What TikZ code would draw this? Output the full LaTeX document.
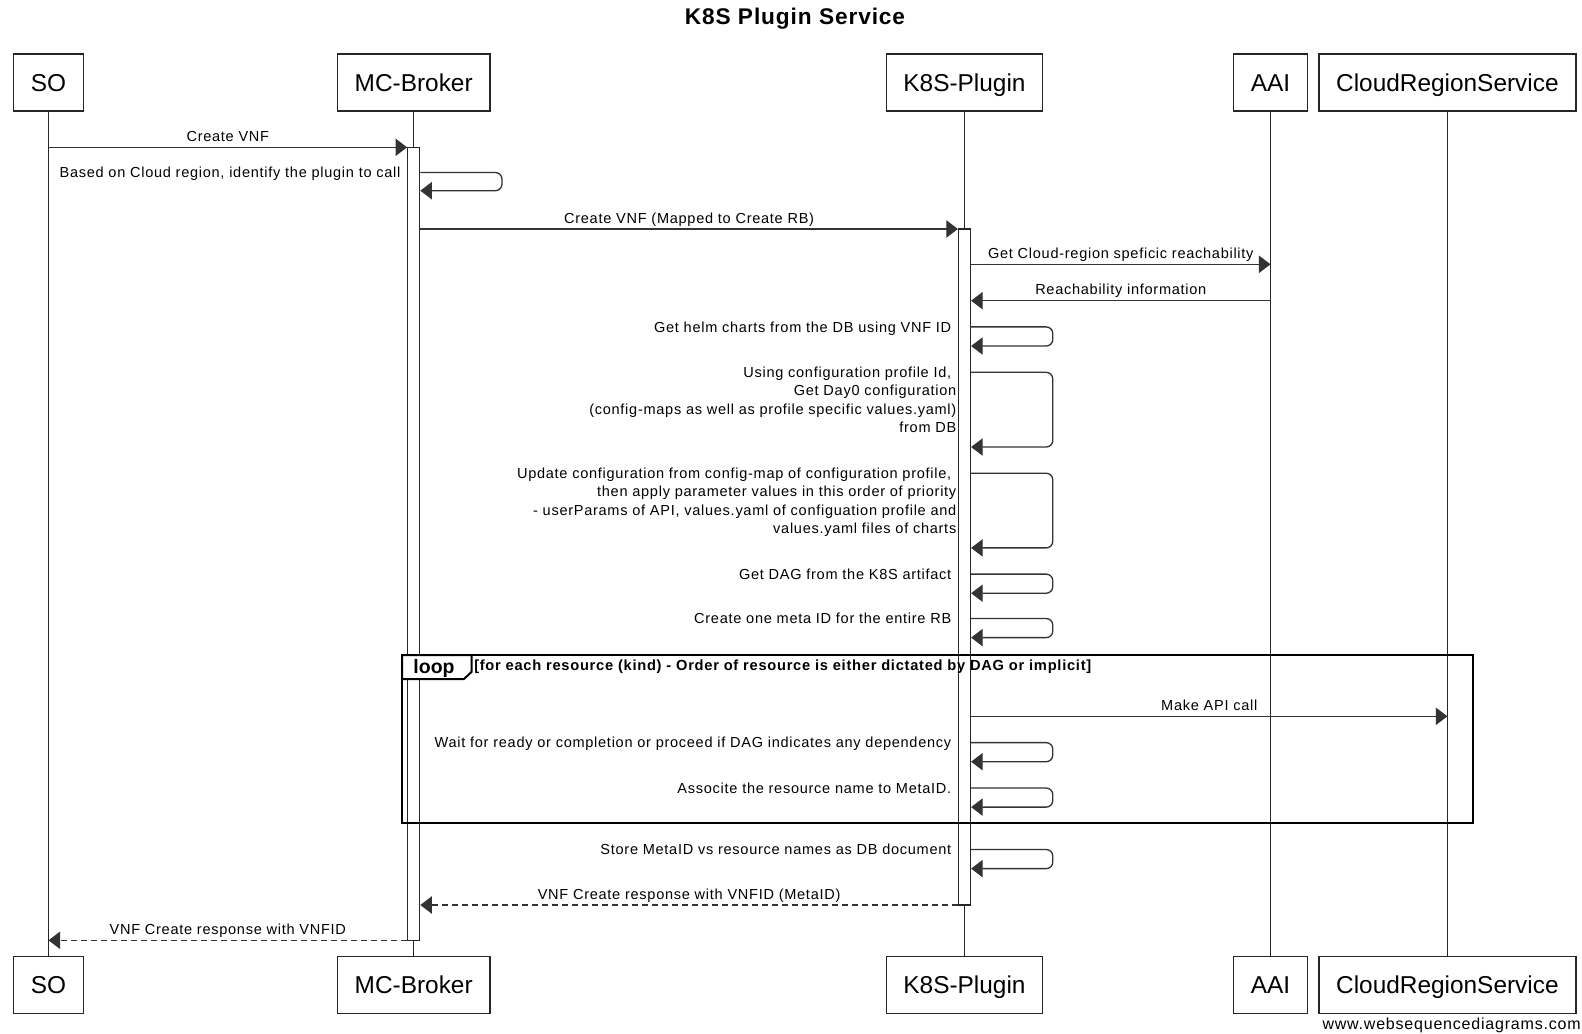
\documentclass[tikz,border=0pt]{standalone}
\usepackage{fontspec}
\setmainfont{Liberation Sans}
\newfontfamily\msgfont[LetterSpace=5]{Liberation Sans}
\newfontfamily\titlefont[LetterSpace=4]{Liberation Sans}
\usetikzlibrary{arrows.meta,positioning}

\begin{document}
\begin{tikzpicture}[x=0.75pt, y=-0.75pt, >={Triangle[length=8.7pt, width=13pt]}, node distance=676.9pt,
        participant/.style={draw=black!85, line width=1.1pt, fill=white, font=\fontsize{18.3pt}{22pt}\selectfont, minimum height=42.75pt, inner xsep=12.9pt, text height=13.1pt, text depth=0pt},
        actbar/.style={draw=black!85, line width=0.9pt, fill=white, minimum width=9pt, inner sep=0pt},
        lifeline/.style={draw=black!85, line width=0.75pt},
        msg/.style={draw=black!80, line width=1pt},
        reply/.style={msg, dash pattern=on 4.5pt off 3pt},
        msglabel/.style={midway, anchor=base, yshift=4.35pt, inner sep=0pt, font=\msgfont\fontsize{10.9pt}{13.8pt}\selectfont},
        selfnote/.style={anchor=base east, xshift=-14.4pt, yshift=-3.9pt, inner sep=0pt, align=right, font=\msgfont\fontsize{10.9pt}{13.8pt}\selectfont},
        longnote/.style={selfnote, xshift=3.8pt, yshift=-41.4pt},
        selfloop/.style={msg, ->, rounded corners=5pt},
        frame/.style={draw=black, line width=1.5pt}]
        \useasboundingbox (0,0) rectangle (1582,1033);

        \node[anchor=base, inner sep=0pt, font=\titlefont\bfseries\fontsize{17pt}{20pt}\selectfont] (title) at (795,24.5) {K8S Plugin Service};

        \node[participant] (so) at (48.5,82.5) {SO};
        \node[participant] (broker) at (413.7,82.5) {MC-Broker};
        \node[participant] (plugin) at (964.5,82.5) {K8S-Plugin};
        \node[participant] (aai) at (1270.5,82.5) {AAI};
        \node[participant] (cloud) at (1447.4,82.5) {CloudRegionService};
        \node[participant] (soEnd) [below of=so] {SO};
        \node[participant] (brokerEnd) [below of=broker] {MC-Broker};
        \node[participant] (pluginEnd) [below of=plugin] {K8S-Plugin};
        \node[participant] (aaiEnd) [below of=aai] {AAI};
        \node[participant] (cloudEnd) [below of=cloud] {CloudRegionService};

        \draw[lifeline] (so) -- (soEnd);
        \draw[lifeline] (broker) -- (brokerEnd);
        \draw[lifeline] (plugin) -- (pluginEnd);
        \draw[lifeline] (aai) -- (aaiEnd);
        \draw[lifeline] (cloud) -- (cloudEnd);

        \node[actbar, minimum height=594.75pt] (brokerAct) at (413.7,543.8) {};
        \node[actbar, minimum height=507pt] (pluginAct) at (964.5,567) {};

        \coordinate (m1) at (0,147.3);
        \coordinate (m2) at (0,172.5);
        \coordinate (m3) at (0,229);
        \coordinate (m4) at (0,264.3);
        \coordinate (m5) at (0,300.7);
        \coordinate (m6) at (0,326.9);
        \coordinate (m7) at (0,372.3);
        \coordinate (m8) at (0,473.2);
        \coordinate (m9) at (0,574.1);
        \coordinate (m10) at (0,618.5);
        \coordinate (m11) at (0,716.3);
        \coordinate (m12) at (0,742.6);
        \coordinate (m13) at (0,788);
        \coordinate (m14) at (0,849.5);
        \coordinate (m15) at (0,905);
        \coordinate (m16) at (0,940.3);

        \draw[msg,->] (so |- m1) -- (brokerAct.west |- m1) node[msglabel] {Create VNF};
        \draw[selfloop] (brokerAct.east |- m2) node[selfnote] {Based on Cloud region, identify the plugin to call} -- ++(81.7,0) -- ++(0,18.2) -- ++(-81.7,0);
        \draw[msg,->] (brokerAct.east |- m3) -- (pluginAct.west |- m3) node[msglabel] {Create VNF (Mapped to Create RB)};
        \draw[msg,->] (pluginAct.east |- m4) -- (aai |- m4) node[msglabel] {Get Cloud-region speficic reachability};
        \draw[msg,->] (aai |- m5) -- (pluginAct.east |- m5) node[msglabel] {Reachability information};
        \draw[selfloop] (pluginAct.east |- m6) node[selfnote] {Get helm charts from the DB using VNF ID} -- ++(81.7,0) -- ++(0,19.1) -- ++(-81.7,0);
        \draw[selfloop] (pluginAct.east |- m7) node[longnote] {Using configuration profile Id,\hspace*{3.8pt}\\Get Day0 configuration\\(config-maps as well as profile specific values.yaml)\\from DB} -- ++(81.7,0) -- ++(0,74.7) -- ++(-81.7,0);
        \draw[selfloop] (pluginAct.east |- m8) node[longnote] {Update configuration from config-map of configuration profile,\hspace*{3.8pt}\\then apply parameter values in this order of priority\\- userParams of API, values.yaml of configuation profile and\\values.yaml files of charts} -- ++(81.7,0) -- ++(0,74.7) -- ++(-81.7,0);
        \draw[selfloop] (pluginAct.east |- m9) node[selfnote] {Get DAG from the K8S artifact} -- ++(81.7,0) -- ++(0,19.1) -- ++(-81.7,0);
        \draw[selfloop] (pluginAct.east |- m10) node[selfnote] {Create one meta ID for the entire RB} -- ++(81.7,0) -- ++(0,19.1) -- ++(-81.7,0);
        \draw[msg,->] (pluginAct.east |- m11) -- (cloud |- m11) node[msglabel] {Make API call};
        \draw[selfloop] (pluginAct.east |- m12) node[selfnote] {Wait for ready or completion or proceed if DAG indicates any dependency} -- ++(81.7,0) -- ++(0,19.1) -- ++(-81.7,0);
        \draw[selfloop] (pluginAct.east |- m13) node[selfnote] {Associte the resource name to MetaID.} -- ++(81.7,0) -- ++(0,19.1) -- ++(-81.7,0);
        \draw[selfloop] (pluginAct.east |- m14) node[selfnote] {Store MetaID vs resource names as DB document} -- ++(81.7,0) -- ++(0,19.1) -- ++(-81.7,0);
        \draw[reply,->] (pluginAct.west |- m15) -- (brokerAct.east |- m15) node[msglabel] {VNF Create response with VNFID (MetaID)};
        \draw[reply,->] (brokerAct.west |- m16) -- (so |- m16) node[msglabel] {VNF Create response with VNFID};

        \draw[frame] (402,655) rectangle (1473,823);
        \draw[frame, fill=white] (402,655) -- (471.7,655) -- (471.7,671.7) -- (464,679) -- (402,679) -- cycle;
        \node[anchor=base, inner sep=0pt, font=\bfseries\fontsize{14.6pt}{17pt}\selectfont] (looptag) at (434,673.3) {loop};
        \node[anchor=base west, inner sep=0pt, font=\msgfont\bfseries\fontsize{11pt}{13.8pt}\selectfont] (loopcond) at (474,670) {\relax[for each resource (kind) - Order of resource is either dictated by DAG or implicit]};

        \node[anchor=base east, inner sep=0pt, font=\msgfont\fontsize{12pt}{14pt}\selectfont] (credit) at (1581,1029) {www.websequencediagrams.com};
      \end{tikzpicture}
\end{document}
